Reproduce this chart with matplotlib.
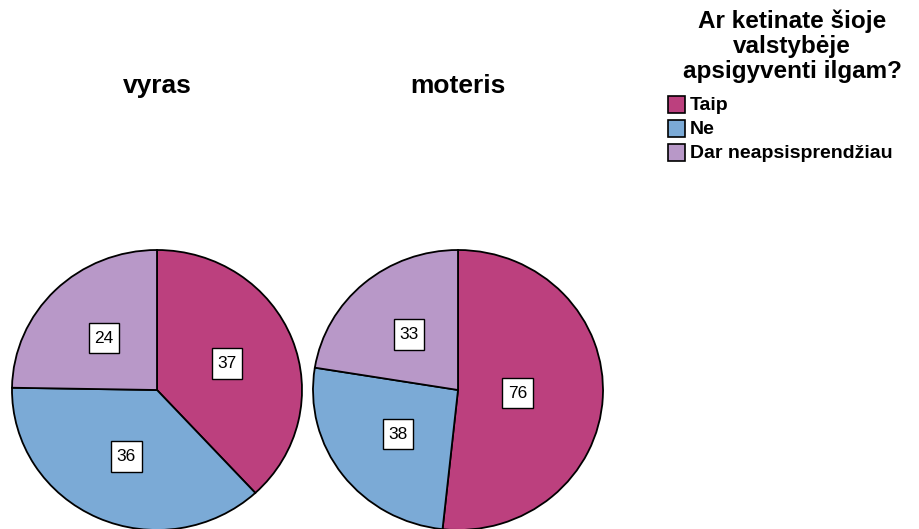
import numpy as np
import matplotlib
matplotlib.use("Agg")
from matplotlib import pyplot as plt
from matplotlib.patches import Rectangle
from matplotlib.path import Path

plt.rcParams['font.family'] = ['Liberation Sans', 'DejaVu Sans']

# data
categories = ["Taip", "Ne", "Dar neapsisprendžiau"]
groups = ["vyras", "moteris"]
vyras = [37, 36, 24]
moteris = [76, 38, 33]
legend_title = "Ar ketinate šioje\nvalstybėje\napsigyventi ilgam?"

colors = ["#BC407E", "#7BAAD6", "#B898C8"]

W, H = 919, 529
fig = plt.figure(figsize=(W / 100, H / 100), dpi=100)


def square_box(x0, y0, width, height, mutation_size):
    # box around the label, padded a bit more vertically so it looks square
    px = 0.33 * mutation_size
    cy = y0 + height / 2
    h = max(height + 2 * px, 1.75 * mutation_size)
    x0, x1 = x0 - px, x0 + width + px
    y0, y1 = cy - h / 2, cy + h / 2
    return Path([(x0, y0), (x1, y0), (x1, y1), (x0, y1), (x0, y0)], closed=True)


def px_axes(cx, cy, rx, ry):
    # axes in pixel coords (y from top) so that (-1,1) spans the ellipse
    return fig.add_axes([(cx - rx) / W, (H - (cy + ry)) / H, 2 * rx / W, 2 * ry / H])


def draw_pie(ax, values):
    wedges, _ = ax.pie(values, colors=colors, startangle=90, counterclock=False,
                       wedgeprops=dict(edgecolor="black", linewidth=1.3))
    for w in wedges:
        w.set_clip_on(False)
    ax.set_aspect("auto")
    ax.set_xlim(-1, 1)
    ax.set_ylim(-1, 1)
    ax.axis("off")
    total = float(sum(values))
    start = 0.0
    for v in values:
        theta = v / total * 2 * np.pi
        mid = np.deg2rad(start) + theta / 2
        # sector centroid, but not further out than about half the radius
        r = min(0.52, 2 / 3 * np.sin(theta / 2) / (theta / 2))
        x = r * np.sin(mid)
        y = r * np.cos(mid)
        ax.text(x, y, str(v), ha="center", va="center", fontsize=12.5,
                bbox=dict(boxstyle=square_box, fc="white", ec="black", lw=1))
        start += v / total * 360.0


ax1 = px_axes(157, 390, 145, 140)
draw_pie(ax1, vyras)
ax2 = px_axes(458, 390, 145, 140)
draw_pie(ax2, moteris)

fig.text(157 / W, 1 - 86 / H, groups[0], ha="center", va="center",
         fontsize=19, fontweight="bold")
fig.text(458 / W, 1 - 86 / H, groups[1], ha="center", va="center",
         fontsize=19, fontweight="bold")

# legend, drawn by hand
fig.text(792 / W, 1 - 46 / H, legend_title, ha="center", va="center",
         multialignment="center", fontsize=17.5, fontweight="bold", linespacing=1.1)
for i, (c, lab) in enumerate(zip(colors, categories)):
    yc = 105 + 24 * i
    fig.patches.append(Rectangle((668 / W, 1 - (yc + 8.5) / H), 17 / W, 17 / H,
                                 transform=fig.transFigure, facecolor=c,
                                 edgecolor="black", linewidth=1.2))
    fig.text(690 / W, 1 - yc / H, lab, ha="left", va="center",
             fontsize=14, fontweight="bold")

fig.savefig("out.png", dpi=100)
